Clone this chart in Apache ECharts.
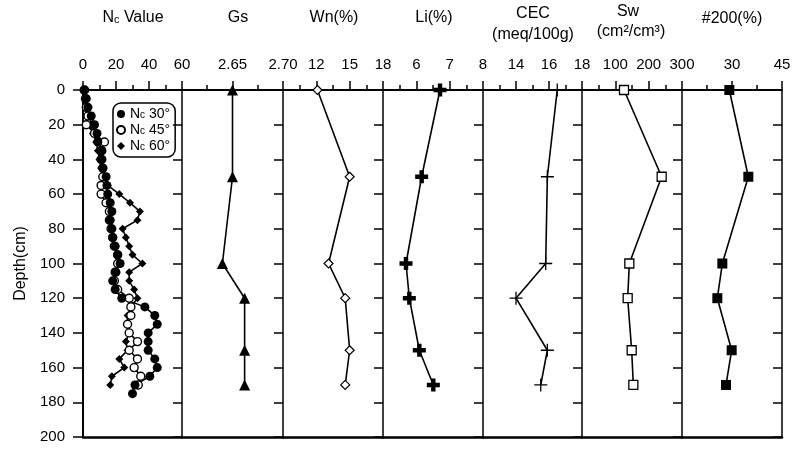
<!DOCTYPE html>
<html>
<head>
<meta charset="utf-8">
<script src="https://cdn.jsdelivr.net/npm/echarts@6/dist/echarts.min.js"></script>
<style>
html,body{margin:0;padding:0;background:#fff}
#chart{width:794px;height:449px}
</style>
</head>
<body>
<div id="chart"></div>
<script>
// Depth profile of cone values (three cone angles) and soil properties
const depthsNc = [0,5,10,15,20,25,30,35,40,45,50,55,60,65,70,75,80,85,90,95,100,105,110,115,120,125,130,135,140,145,150,155,160,165,170,175];
const nc30 = [0.6,2,3,5,7,8.5,9,11.5,11.5,12,14,14.5,15,16.5,17.5,16.5,17.5,18,19.5,21,22.5,20,18,19.5,23.5,37.5,43.5,45,39.5,39.5,39.5,43.5,45,40.5,31.5,30];
const nc45 = [1,1.5,2,3,2,7,13,11,11,12,12,11,11,14,16,16,17,18,19,21,21,19.5,19,21,28,29,29,27,28,33,28,33,31,35,33.5];
const nc60 = [1,2,3,4,5,6,8,9,10,11,12,15,22,28.5,34.5,33,24,26,28,30,36,28,28,31,33,29,27,27,28,26,27,22,25,17.5,16.5];

const depthsProp = [0,50,100,120,150,170];
const gs = [2.65,2.65,2.64,2.662,2.662,2.662];
const wn = [12.1,15.0,13.1,14.6,15.0,14.6];
const li = [6.71,6.16,5.69,5.79,6.09,6.51];
const cec = [16.5,15.9,15.8,14.0,15.9,15.5];
const sw = [126,239,142,137,149,154];
const p200 = [29.2,34.9,27.1,25.6,29.9,28.2];

// axis ranges of the seven panels: [min, max, interval]
const ncRange = [0,60,20];
const gsRange = [2.60,2.70,0.05];
const wnRange = [9,18,3];
const liRange = [5,8,1];
const cecRange = [12,18,2];
const swRange = [0,300,100];
const p200Range = [15,45,15];
const depthRange = [0,200,20];

const FONT = 'Liberation Sans, Arial, sans-serif';
const edges = [83,182,283,383,483,582,682,782];
const TOP = 90, BOTTOM = 437;

const ranges = [ncRange, gsRange, wnRange, liRange, cecRange, swRange, p200Range];
const fmts = [null, v => v.toFixed(2), null, null, null, null, null];

const grids = [], xAxes = [], yAxes = [];
for (let i = 0; i < 7; i++) {
  grids.push({left: edges[i], top: TOP, width: edges[i+1]-edges[i], height: BOTTOM-TOP, containLabel: false});
}
for (let i = 0; i < 7; i++) {
  const r = ranges[i];
  const lab = {show: true, margin: 18, color: '#000', fontSize: 15, fontFamily: FONT,
               showMinLabel: i === 0, showMaxLabel: true};
  if (fmts[i]) lab.formatter = fmts[i];
  xAxes.push({
    gridIndex: i, type: 'value', position: 'top', min: r[0], max: r[1], interval: r[2],
    axisLine: {show: true, onZero: false, lineStyle: {color: '#000', width: 2}},
    axisTick: {show: true, inside: false, length: 9, lineStyle: {color: '#000', width: 1.5}},
    minorTick: {show: true, splitNumber: 2, length: 5, lineStyle: {color: '#000', width: 1.5}},
    axisLabel: lab,
    splitLine: {show: false}, minorSplitLine: {show: false}
  });
}
// bottom frame line of each panel
for (let i = 0; i < 7; i++) {
  xAxes.push({
    gridIndex: i, type: 'value', position: 'bottom', min: 0, max: 1,
    axisLine: {show: true, onZero: false, lineStyle: {color: '#000', width: 2.5}},
    axisTick: {show: false}, axisLabel: {show: false}, splitLine: {show: false}
  });
}
// left depth axis of the first panel
yAxes.push({
  gridIndex: 0, type: 'value', inverse: true, position: 'left',
  min: depthRange[0], max: depthRange[1], interval: depthRange[2],
  name: 'Depth(cm)', nameLocation: 'middle', nameGap: 54, nameRotate: 90,
  nameTextStyle: {color: '#000', fontSize: 16, fontFamily: FONT},
  axisLine: {show: true, onZero: false, lineStyle: {color: '#000', width: 2}},
  axisTick: {show: true, inside: false, length: 10, lineStyle: {color: '#000', width: 1.5}},
  axisLabel: {show: true, margin: 18, color: '#000', fontSize: 15, fontFamily: FONT},
  splitLine: {show: false}
});
// right edge of every panel with inward ticks
for (let i = 0; i < 7; i++) {
  yAxes.push({
    gridIndex: i, type: 'value', inverse: true, position: 'right',
    min: depthRange[0], max: depthRange[1], interval: depthRange[2],
    axisLine: {show: true, onZero: false, lineStyle: {color: '#000', width: 1.5}},
    axisTick: {show: true, inside: true, length: 9, lineStyle: {color: '#000', width: 1.5}},
    axisLabel: {show: false}, splitLine: {show: false}
  });
}

const line = {color: '#000', width: 1.6};
const pts = (vals, depths) => vals.map((v, k) => [v, depths[k]]);
const thickPlus = 'path://M3.3,0H6.7V3.3H10V6.7H6.7V10H3.3V6.7H0V3.3H3.3Z';
const thinPlus = 'path://M4.5,0H5.5V4.5H10V5.5H5.5V10H4.5V5.5H0V4.5H4.5Z';

function propSeries(name, i, vals, symbol, size, itemStyle) {
  return {
    name, type: 'line', xAxisIndex: i, yAxisIndex: i + 1,
    data: pts(vals, depthsProp), symbol, symbolSize: size,
    itemStyle, lineStyle: line, showAllSymbol: true
  };
}

const series = [
  {name: 'Nc 60°', type: 'line', xAxisIndex: 0, yAxisIndex: 0, data: pts(nc60, depthsNc),
   symbol: 'diamond', symbolSize: 8, itemStyle: {color: '#000'}, lineStyle: line, showAllSymbol: true},
  {name: 'Nc 45°', type: 'line', xAxisIndex: 0, yAxisIndex: 0, data: pts(nc45, depthsNc),
   symbol: 'circle', symbolSize: 8, itemStyle: {color: '#fff', borderColor: '#000', borderWidth: 1.4},
   lineStyle: line, showAllSymbol: true},
  {name: 'Nc 30°', type: 'line', xAxisIndex: 0, yAxisIndex: 0, data: pts(nc30, depthsNc),
   symbol: 'circle', symbolSize: 9, itemStyle: {color: '#000'}, lineStyle: line, showAllSymbol: true},
  propSeries('Gs', 1, gs, 'triangle', 11, {color: '#000'}),
  propSeries('Wn', 2, wn, 'diamond', 9, {color: '#fff', borderColor: '#000', borderWidth: 1.2}),
  propSeries('Li', 3, li, thickPlus, 13, {color: '#000'}),
  propSeries('CEC', 4, cec, thinPlus, 13, {color: '#000'}),
  propSeries('Sw', 5, sw, 'rect', 9, {color: '#fff', borderColor: '#000', borderWidth: 1.3}),
  propSeries('#200', 6, p200, 'rect', 10, {color: '#000'})
];

function title(x, y, text, size, rich) {
  const style = {text, x, y, align: 'center', verticalAlign: 'middle',
                 fill: '#000', fontSize: size, fontFamily: FONT};
  if (rich) style.rich = rich;
  return {type: 'text', style};
}
const titleRich = {a: {fontSize: 16, fontFamily: FONT, fill: '#000'},
                   b: {fontSize: 11, fontFamily: FONT, fill: '#000', padding: [4, 0, 0, 0]}};

const chart = echarts.init(document.getElementById('chart'), null, {renderer: 'canvas'});
chart.setOption({
  animation: false,
  backgroundColor: '#fff',
  grid: grids,
  xAxis: xAxes,
  yAxis: yAxes,
  series,
  legend: {
    left: 113, top: 103, orient: 'vertical',
    borderColor: '#000', borderWidth: 1.5, borderRadius: 8,
    padding: [4, 5, 4, 3], itemGap: 2, itemWidth: 8, itemHeight: 8,
    data: [{name: 'Nc 30°', icon: 'circle'}, {name: 'Nc 45°', icon: 'circle'}, {name: 'Nc 60°', icon: 'diamond'}],
    formatter: n => '{n|N}{s|c}{n|' + n.slice(2) + '}',
    textStyle: {color: '#000', fontFamily: FONT, fontSize: 14,
      rich: {n: {fontSize: 14, fontFamily: FONT, color: '#000'},
             s: {fontSize: 10, fontFamily: FONT, color: '#000', padding: [3, 0, 0, 0]}}},
    selectedMode: false
  },
  graphic: [
    title(133, 18, '{a|N}{b|c}{a| Value}', 16, titleRich),
    title(238, 18, 'Gs', 16),
    title(334, 18, 'Wn(%)', 16),
    title(434, 18, 'Li(%)', 16),
    title(533, 14, 'CEC', 16),
    title(533, 35, '(meq/100g)', 16),
    title(628, 12, 'Sw', 16),
    title(631, 32, '(cm²/cm³)', 16),
    title(732, 19, '#200(%)', 16)
  ]
});
</script>
</body>
</html>
